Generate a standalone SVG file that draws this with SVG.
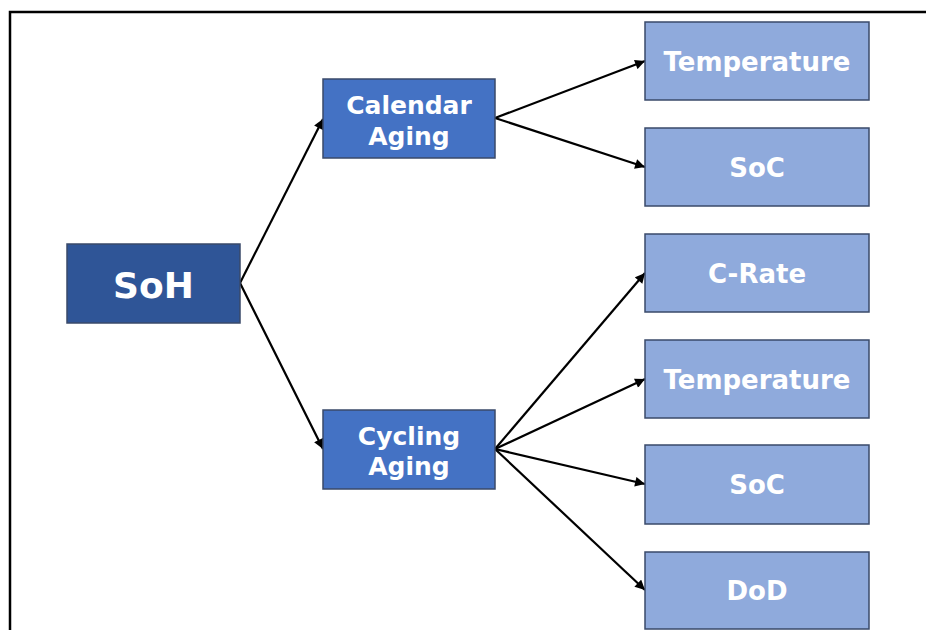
<svg xmlns="http://www.w3.org/2000/svg" width="926" height="630" viewBox="0 0 926 630">
<style>
.box{stroke:#3a4a6a;stroke-width:1.5}
.root{fill:#2F5597}
.mid{fill:#4472C4}
.leaf{fill:#8FAADC}
text{font-family:"DejaVu Sans","Verdana",sans-serif;font-weight:bold;fill:#ffffff;text-anchor:middle}
.t36{font-size:36px}
.t25{font-size:25px}
.t26{font-size:26px}
.conn line{stroke:#000;stroke-width:2.2;marker-end:url(#ah)}
</style>
<defs>
<marker id="ah" viewBox="0 0 10 10" refX="10" refY="5" markerWidth="5" markerHeight="4.5" orient="auto" markerUnits="strokeWidth">
<path d="M0,0 L10,5 L0,10 z" fill="#000"/>
</marker>
</defs>
<rect x="0" y="0" width="926" height="630" fill="#ffffff"/>
<path d="M10,630 L10,12 L926,12" fill="none" stroke="#000" stroke-width="2.5"/>
<g id="connectors" class="conn">
<line x1="240" y1="283" x2="323" y2="119"/>
<line x1="240" y1="283" x2="323" y2="449"/>
<line x1="495" y1="118" x2="645" y2="61"/>
<line x1="495" y1="118" x2="645" y2="167"/>
<line x1="495" y1="449" x2="645" y2="273"/>
<line x1="495" y1="449" x2="645" y2="379"/>
<line x1="495" y1="449" x2="645" y2="484"/>
<line x1="495" y1="449" x2="645" y2="590"/>
</g>
<g id="soh">
<rect class="box root" x="67" y="244" width="173" height="79"/>
<text class="t36" x="153.5" y="298">SoH</text>
</g>
<g id="calendar">
<rect class="box mid" x="323" y="79" width="172" height="79"/>
<text class="t25" x="409" y="114">Calendar</text>
<text class="t25" x="409" y="145">Aging</text>
</g>
<g id="cycling">
<rect class="box mid" x="323" y="410" width="172" height="79"/>
<text class="t25" x="409" y="445">Cycling</text>
<text class="t25" x="409" y="475">Aging</text>
</g>
<g id="temp1">
<rect class="box leaf" x="645" y="22" width="224" height="78"/>
<text class="t26" x="757" y="71">Temperature</text>
</g>
<g id="soc1">
<rect class="box leaf" x="645" y="128" width="224" height="78"/>
<text class="t26" x="757" y="177">SoC</text>
</g>
<g id="crate">
<rect class="box leaf" x="645" y="234" width="224" height="78"/>
<text class="t26" x="757" y="282.5">C-Rate</text>
</g>
<g id="temp2">
<rect class="box leaf" x="645" y="340" width="224" height="78"/>
<text class="t26" x="757" y="388.5">Temperature</text>
</g>
<g id="soc2">
<rect class="box leaf" x="645" y="445" width="224" height="79"/>
<text class="t26" x="757" y="494">SoC</text>
</g>
<g id="dod">
<rect class="box leaf" x="645" y="552" width="224" height="77"/>
<text class="t26" x="757" y="600">DoD</text>
</g>
</svg>
